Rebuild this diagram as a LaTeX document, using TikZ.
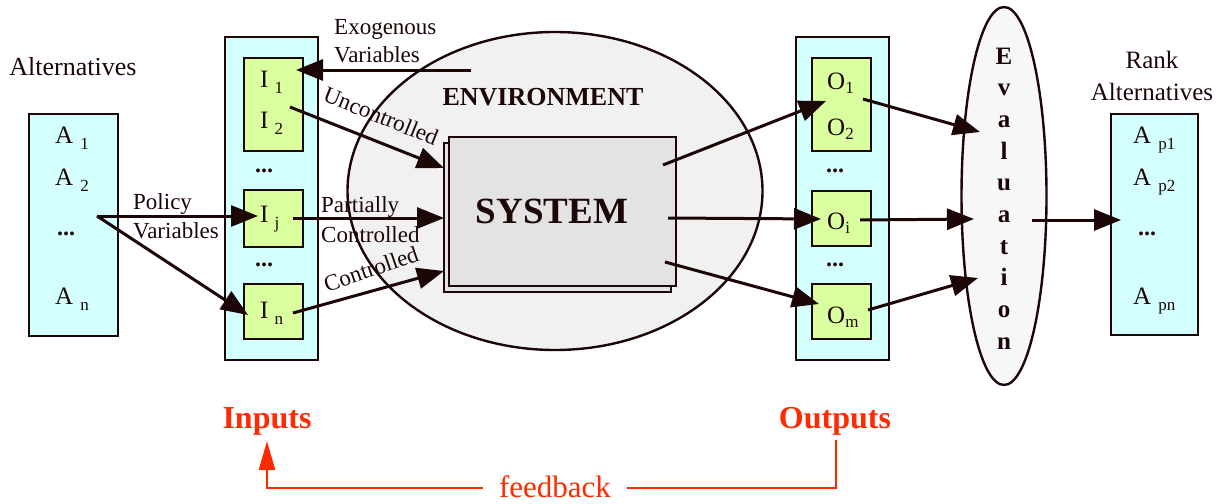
\documentclass[tikz,border=0pt]{standalone}
\usepackage{fontspec}
\setmainfont{Liberation Serif}
\usetikzlibrary{arrows.meta,shapes.geometric,calc}
\definecolor{ink}{HTML}{1C0606}
\definecolor{cyanf}{HTML}{D4FFFF}
\definecolor{greenf}{HTML}{DAFF9E}
\definecolor{sysf}{HTML}{E3E3E3}
\definecolor{envf}{HTML}{F1F1F1}
\definecolor{evalf}{HTML}{F7F7F7}
\definecolor{redc}{HTML}{FF2A00}
\newcommand\sbx[1]{\raisebox{-6pt}{\fontsize{17}{18}\selectfont #1}}
\newcommand\sby[1]{\raisebox{-4pt}{\fontsize{17}{18}\selectfont #1}}
\begin{document}
\begin{tikzpicture}[x=1pt,y=-1pt,
  panel/.style={draw=ink,line width=2.4pt,fill=cyanf,inner sep=0,anchor=north west},
  gbox/.style={draw=ink,line width=2.4pt,fill=greenf,inner sep=0,anchor=north west},
  sysbox/.style={draw=ink,line width=2.2pt,fill=sysf,inner sep=0,anchor=north west,minimum width=227pt,minimum height=149pt},
  arr/.style={draw=ink,line width=3pt,-{Triangle[length=27pt,width=21pt]}},
  lbl/.style={font=\fontsize{23}{26}\selectfont,text=ink,inner sep=0},
  itm/.style={font=\fontsize{25}{28}\selectfont,text=ink,inner sep=0,anchor=base west},
  dotsn/.style={font=\fontsize{24}{26}\selectfont\bfseries,text=ink,inner sep=0,anchor=base},
  evl/.style={font=\fontsize{25}{28}\selectfont\bfseries,text=ink,inner sep=0,anchor=base},
  redt/.style={font=\fontsize{32}{36}\selectfont\bfseries,text=redc,inner sep=0,anchor=base},
  redline/.style={draw=redc,line width=2.6pt},
]
\useasboundingbox (0,0) rectangle (1225,503);

% ---------- Alternatives
\node[font=\fontsize{26}{28}\selectfont,text=ink,inner sep=0,anchor=base] (altlbl) at (73,75) {Alternatives};
\node[panel,minimum width=89pt,minimum height=222pt] (altbox) at (28,113) {};
\node[itm] (a1) at (55,143) {A\hspace{7pt}\sbx{1}};
\node[itm] (a2) at (55,185) {A\hspace{7pt}\sbx{2}};
\node[dotsn] (adots) at (66,235) {...};
\node[itm] (an) at (55,304) {A\hspace{7pt}\sbx{n}};

% ---------- Environment and system
\node[ellipse,draw=ink,line width=2.4pt,fill=envf,minimum width=415pt,minimum height=318pt,inner sep=0] (env) at (555,191) {};
\node[font=\fontsize{26}{28}\selectfont\bfseries,text=ink,inner sep=0] (envlbl) at (543,97) {ENVIRONMENT};
\node[sysbox] (sysback) at (443,142) {};
\node[sysbox] (sys) at (448,136) {};
\node[font=\fontsize{37}{40}\selectfont\bfseries,text=ink,inner sep=0] (syslbl) at (552,211) {SYSTEM};

% ---------- Inputs panel
\node[panel,minimum width=93pt,minimum height=323pt] (inpanel) at (224,36) {};
\node[gbox,minimum width=59pt,minimum height=93pt] (ibox12) at (243,57) {};
\node[gbox,minimum width=59pt,minimum height=57pt] (iboxj) at (243,189) {};
\node[gbox,minimum width=59pt,minimum height=55pt] (iboxn) at (243,283) {};
\node[itm] (i1) at (260,87) {I\hspace{6pt}\sbx{1}};
\node[itm] (i2) at (260,128) {I\hspace{6pt}\sbx{2}};
\node[itm] (ij) at (260,222) {I\hspace{6pt}\sbx{j}};
\node[itm] (inn) at (260,318) {I\hspace{6pt}\sbx{n}};
\node[dotsn] (idots1) at (264,172) {...};
\node[dotsn] (idots2) at (264,266) {...};

% ---------- Outputs panel
\node[panel,minimum width=93pt,minimum height=323pt] (outpanel) at (795,36) {};
\node[gbox,minimum width=59pt,minimum height=93pt] (obox12) at (811,57) {};
\node[gbox,minimum width=59pt,minimum height=55pt] (oboxi) at (811,190) {};
\node[gbox,minimum width=59pt,minimum height=55pt] (oboxm) at (811,283) {};
\node[itm] (o1) at (827,89) {O\sby{1}};
\node[itm] (o2) at (827,135) {O\sby{2}};
\node[itm] (oi) at (827,229) {O\sby{i}};
\node[itm] (om) at (827,323) {O\sby{m}};
\node[dotsn] (odots1) at (835,172) {...};
\node[dotsn] (odots2) at (835,266) {...};

% ---------- Evaluation
\node[ellipse,draw=ink,line width=2.4pt,fill=evalf,minimum width=85pt,minimum height=378pt,inner sep=0] (eval) at (1004,196) {};
\foreach \ch [count=\k from 0] in {E,v,a,l,u,a,t,i,o,n}
  \node[evl] (ev\k) at (1004,{64+31.7*\k}) {\ch};

% ---------- Rank alternatives
\node[font=\fontsize{25}{28}\selectfont,text=ink,inner sep=0,anchor=base] (ranklbl1) at (1152,68) {Rank};
\node[font=\fontsize{25}{28}\selectfont,text=ink,inner sep=0,anchor=base] (ranklbl2) at (1152,100) {Alternatives};
\node[panel,minimum width=87pt,minimum height=221pt] (rankbox) at (1110,113) {};
\node[itm] (ap1) at (1133,143) {A\hspace{7pt}\sbx{p1}};
\node[itm] (ap2) at (1133,185) {A\hspace{7pt}\sbx{p2}};
\node[dotsn] (rdots) at (1147,235) {...};
\node[itm] (apn) at (1133,304) {A\hspace{7pt}\sbx{pn}};

% ---------- connector coordinates
\coordinate (polsrc) at (97,216);
\coordinate (ijtip) at (258,216);
\coordinate (intip) at (248,315);
\coordinate (exosrc) at (471,70);
\coordinate (exotip) at (296,70);
\coordinate (usrc) at (290,107);
\coordinate (utip) at (444,168);
\coordinate (psrc) at (293,218);
\coordinate (ptip) at (444,218);
\coordinate (csrc) at (293,313);
\coordinate (ctip) at (444,271);
\coordinate (s1) at (663,165);
\coordinate (o1tip) at (826,101);
\coordinate (s2) at (668,218);
\coordinate (oitip) at (821,219);
\coordinate (s3) at (665,262);
\coordinate (omtip) at (819,304);
\coordinate (o1src) at (863,99);
\coordinate (e1tip) at (980,132);
\coordinate (oisrc) at (860,220);
\coordinate (e2tip) at (974,219);
\coordinate (omsrc) at (868,310);
\coordinate (e3tip) at (978,278);
\coordinate (evsrc) at (1032,220);
\coordinate (rtip) at (1121,220);

% ---------- arrows
\draw[arr] (polsrc) -- (ijtip);
\draw[arr] (polsrc) -- (intip);
\draw[arr] (exosrc) -- (exotip);
\draw[arr] (usrc) -- (utip);
\draw[arr] (psrc) -- (ptip);
\draw[arr] (csrc) -- (ctip);
\draw[arr] (s1) -- (o1tip);
\draw[arr] (s2) -- (oitip);
\draw[arr] (s3) -- (omtip);
\draw[arr] (o1src) -- (e1tip);
\draw[arr] (oisrc) -- (e2tip);
\draw[arr] (omsrc) -- (e3tip);
\draw[arr] (evsrc) -- (rtip);

% ---------- labels
\node[lbl,anchor=base west] (exo1) at (334,35) {Exogenous};
\node[lbl,anchor=base west] (exo2) at (334,63) {Variables};
\node[lbl,anchor=base west] (pol1) at (133,209) {Policy};
\node[lbl,anchor=base west] (pol2) at (133,238) {Variables};
\node[lbl,anchor=base west] (part1) at (321,212) {Partially};
\node[lbl,anchor=base west] (part2) at (321,242) {Controlled};
\node[lbl,rotate=-22] (unc) at (381,116) {Uncontrolled};
\node[lbl,rotate=19] (ctl) at (371,269) {Controlled};

% ---------- feedback
\node[redt] (inputs) at (267,428) {Inputs};
\node[redt] (outputs) at (835,428) {Outputs};
\node[font=\fontsize{31}{34}\selectfont,text=redc,inner ysep=0,inner xsep=16pt,anchor=base] (fb) at (555,497) {feedback};
\coordinate (fbl) at (267,488);
\coordinate (fbr) at (836,488);
\coordinate (outtop) at (836,440);
\coordinate (intop) at (267,441);
\draw[redline] (outtop) -- (fbr) -- (fbr -| fb.east);
\draw[redline,-{Triangle[length=29pt,width=16pt]}] (fbl -| fb.west) -- (fbl) -- (intop);
\end{tikzpicture}
\end{document}
